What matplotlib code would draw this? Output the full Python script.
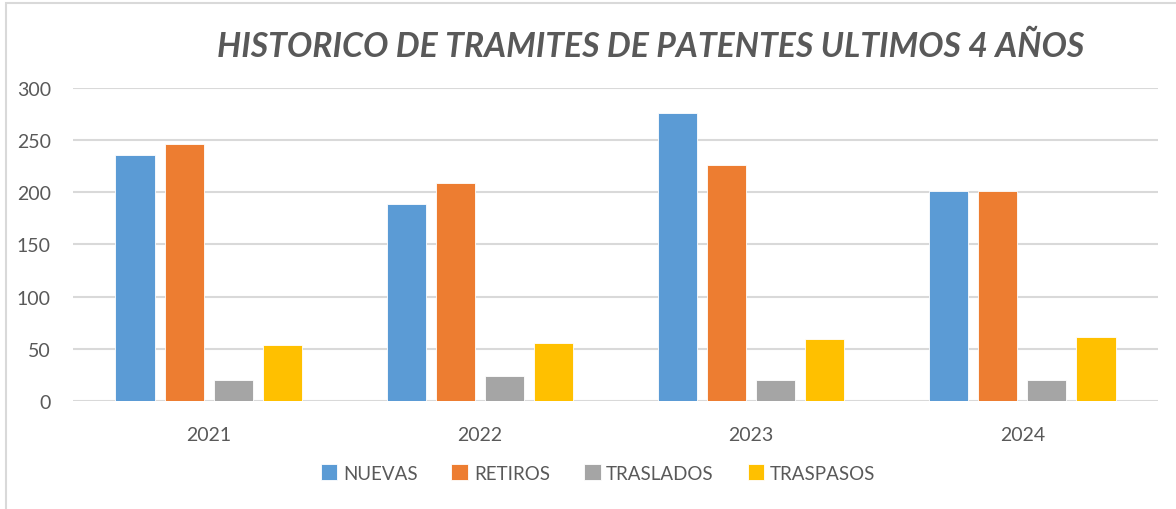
import numpy as np
import matplotlib.pyplot as plt
from matplotlib.patches import Rectangle

years = ["2021", "2022", "2023", "2024"]
series = ["NUEVAS", "RETIROS", "TRASLADOS", "TRASPASOS"]
nuevas = [236, 189, 276, 201]
retiros = [246, 209, 226, 201]
traslados = [20, 24, 20, 20]
traspasos = [54, 56, 59, 61]
colors = ["#5B9BD5", "#ED7D31", "#A5A5A5", "#FFC000"]

plt.rcParams["font.family"] = ["Lato", "DejaVu Sans"]

fig = plt.figure(figsize=(11.76, 5.10), dpi=100)
ax = fig.add_axes([73 / 1176, 1 - 402 / 510, (1158 - 73) / 1176, (402 - 89) / 510])

x = np.arange(len(years))
width = 0.144
step = 0.181
values = [nuevas, retiros, traslados, traspasos]
for i, (name, vals) in enumerate(zip(series, values)):
    ax.bar(x + (i - 1.5) * step, vals, width, color=colors[i], label=name,
           edgecolor="white", linewidth=0.6, zorder=3)

ax.set_xlim(-0.5, len(years) - 0.5)
ax.set_ylim(0, 300)
ax.set_yticks(range(0, 301, 50))
ax.set_xticks(x)
ax.set_xticklabels(years)
ax.grid(axis="y", color="#D9D9D9", linewidth=1.5, zorder=0)
ax.tick_params(length=0, labelsize=14, labelcolor="#595959")
ax.tick_params(axis="y", pad=16)
ax.tick_params(axis="x", pad=18)
for s in ax.spines.values():
    s.set_visible(False)

fig.text(651 / 1176, 1 - 47 / 510, "HISTORICO DE TRAMITES DE PATENTES ULTIMOS 4 AÑOS",
         ha="center", va="center", fontsize=24.3, fontweight="bold", fontstyle="italic",
         color="#595959")

fig.legend(loc="center", bbox_to_anchor=(598 / 1176, 1 - 474 / 510), ncol=4,
           frameon=False, fontsize=13.5, labelcolor="#595959", handlelength=0.9,
           handleheight=0.9, handletextpad=0.3, columnspacing=1.8)

# outer chart border
fig.add_artist(Rectangle((6 / 1176, -0.01), 1.2, 1 - 4 / 510 + 0.01,
                         transform=fig.transFigure, fill=False,
                         edgecolor="#D9D9D9", linewidth=1.5))

fig.savefig("out.png", dpi=100)
